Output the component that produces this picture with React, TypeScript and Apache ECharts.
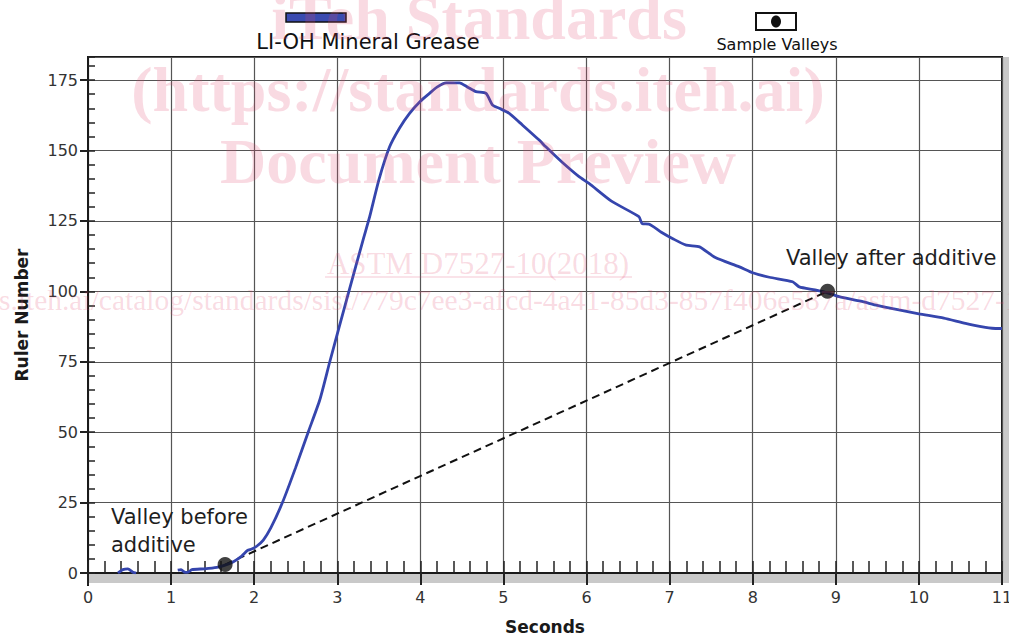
import React, { useEffect, useRef } from "react";
import * as echarts from "echarts";

const seconds: number[] = [0.36, 0.42, 0.48, 0.54, 0.58, 0.6, 1.05, 1.08, 1.12, 1.16, 1.2, 1.25, 1.4, 1.55, 1.65, 1.75, 1.85, 1.92, 1.97, 2.03, 2.11, 2.2, 2.34, 2.5, 2.65, 2.79, 2.91, 3.02, 3.14, 3.31, 3.39, 3.5, 3.63, 3.75, 3.87, 4.0, 4.11, 4.2, 4.31, 4.47, 4.57, 4.67, 4.79, 4.87, 4.95, 5.07, 5.2, 5.43, 5.51, 5.7, 5.91, 6.03, 6.3, 6.63, 6.67, 6.75, 6.9, 7.05, 7.2, 7.36, 7.55, 7.84, 8.0, 8.2, 8.48, 8.56, 8.75, 8.92, 9.04, 9.3, 9.5, 9.76, 10.0, 10.3, 10.56, 10.8, 10.88, 11.0];
const rulerNumber: (number | null)[] = [0, 1.2, 1.5, 0.3, 0, null, null, 1, 1.2, 0.3, 0.2, 1.2, 1.5, 2, 2.8, 4, 6, 8, 8.5, 9.5, 11.7, 16, 25, 37.5, 50, 61.5, 75, 87, 100, 118.2, 126.5, 139.5, 151.3, 158, 163.2, 167.5, 170.3, 172.5, 174, 174, 172.5, 170.9, 170.3, 166.1, 165, 163.2, 159.8, 153.7, 151.3, 146, 140.7, 138.3, 132, 126.5, 124, 123.9, 121, 118.5, 116.4, 115.8, 112, 108.7, 106.6, 105, 103.4, 101.6, 100.5, 99.3, 98.1, 96.5, 95, 93.4, 92, 90.5, 88.6, 87.2, 86.9, 86.8];
const valleySeconds: number[] = [1.65, 8.9];
const valleyRuler: number[] = [3, 100];
const valleyLabels: string[] = ["Valley before\nadditive", "Valley after additive"];
const seriesNames: string[] = ["LI-OH Mineral Grease", "Sample Valleys"];
const xTicks: number[] = [0, 1, 2, 3, 4, 5, 6, 7, 8, 9, 10, 11];
const yTicks: number[] = [0, 25, 50, 75, 100, 125, 150, 175];

const FONT = "DejaVu Sans";
const WM = "rgba(225,70,110,0.2)";
const SERIF = "Liberation Serif";

export default function App() {
  const ref = useRef<HTMLDivElement>(null);
  useEffect(() => {
    if (!ref.current) return;
    const chart = echarts.init(ref.current, null, { renderer: "svg" });
    const X_MIN = xTicks[0];
    const X_MAX = xTicks[xTicks.length - 1];
    const Y_MAX = 183.2;
    const lineData = seconds.map((s, i) => [s, rulerNumber[i]]);
    const valleyData = valleySeconds.map((s, i) => [s, valleyRuler[i]]);
    const commonX = { type: "value", position: "bottom", min: X_MIN, max: X_MAX, interval: 1, gridIndex: 0 };
    const commonY = { type: "value", position: "left", min: yTicks[0], max: Y_MAX, interval: 25, gridIndex: 0 };
    chart.setOption({
      animation: false,
      backgroundColor: "#ffffff",
      grid: {
        left: 88, right: 7, top: 57, bottom: 69, containLabel: false, outerBoundsMode: "none",
        show: true, borderColor: "#1a1a1a", borderWidth: 2, backgroundColor: "transparent",
      },
      xAxis: [
        {
          ...commonX,
          axisLine: { show: true, onZero: false, lineStyle: { color: "#1a1a1a", width: 2 } },
          axisTick: { show: true, inside: true, length: 12, lineStyle: { color: "#222", width: 1.5 } },
          minorTick: { show: true, splitNumber: 5, length: 12, lineStyle: { color: "#222", width: 1.5 } },
          axisLabel: { show: false },
          splitLine: { show: true, lineStyle: { color: "#555", width: 1.2 } },
        },
        {
          ...commonX,
          name: "Seconds",
          nameLocation: "middle",
          nameGap: 45,
          nameTextStyle: { fontFamily: FONT, fontSize: 17, fontWeight: "bold", color: "#1a1a1a" },
          axisLine: { show: true, onZero: false, lineStyle: { color: "#1a1a1a", width: 2 } },
          axisTick: { show: true, inside: false, length: 12, lineStyle: { color: "#222", width: 2 } },
          axisLabel: { show: true, margin: 16, fontFamily: FONT, fontSize: 16, color: "#333" },
          splitLine: { show: false },
        },
      ],
      yAxis: [
        {
          ...commonY,
          axisLine: { show: true, onZero: false, lineStyle: { color: "#1a1a1a", width: 2 } },
          axisTick: { show: true, inside: true, length: 7, lineStyle: { color: "#222", width: 1.5 } },
          minorTick: { show: true, splitNumber: 5, length: 7, lineStyle: { color: "#222", width: 1.5 } },
          axisLabel: { show: false },
          splitLine: { show: true, lineStyle: { color: "#555", width: 1.2 } },
        },
        {
          ...commonY,
          name: "Ruler Number",
          nameLocation: "middle",
          nameGap: 58,
          nameTextStyle: { fontFamily: FONT, fontSize: 17, fontWeight: "bold", color: "#1a1a1a" },
          axisLine: { show: true, onZero: false, lineStyle: { color: "#1a1a1a", width: 2 } },
          axisTick: { show: true, inside: false, length: 8, lineStyle: { color: "#222", width: 2 } },
          axisLabel: {
            show: true, margin: 10, fontFamily: FONT, fontSize: 16, color: "#333", showMaxLabel: false,
            formatter: (v: number) => (yTicks.indexOf(v) >= 0 ? String(v) : ""),
          },
          splitLine: { show: false },
        },
      ],
      series: [
        {
          name: "Valley line",
          type: "line",
          data: valleyData,
          symbol: "none",
          lineStyle: { color: "#111", width: 2, type: [8, 5] },
          z: 3,
          silent: true,
        },
        {
          name: seriesNames[0],
          type: "line",
          data: lineData,
          symbol: "none",
          smooth: 0.2,
          connectNulls: false,
          lineStyle: { color: "#3545ad", width: 2.8 },
          z: 4,
        },
        {
          name: seriesNames[1],
          type: "scatter",
          data: valleyData,
          symbol: "circle",
          symbolSize: 15,
          itemStyle: { color: "#111" },
          z: 5,
        },
      ],
      graphic: [
        { type: "rect", shape: { x: 89, y: 574, width: 920, height: 9 }, style: { fill: "#c9c9c9" }, z: -1 },
        { type: "rect", shape: { x: 1003, y: 57, width: 6, height: 526 }, style: { fill: "#c9c9c9" }, z: -1 },
        { type: "line", shape: { x1: 88, y1: 573, x2: 88, y2: 586 }, style: { stroke: "#1a1a1a", lineWidth: 2 } },
        { type: "line", shape: { x1: 1002, y1: 57, x2: 1002, y2: 583 }, style: { stroke: "#1a1a1a", lineWidth: 2 } },
        { type: "text", left: 111, top: 503, style: { text: valleyLabels[0], fontFamily: FONT, fontSize: 21, lineHeight: 28, fill: "#1e1e1e" }, z: 10 },
        { type: "text", left: 786, top: 247, style: { text: valleyLabels[1], fontFamily: FONT, fontSize: 21, fill: "#1e1e1e" }, z: 10 },
        { type: "rect", shape: { x: 286, y: 13, width: 60, height: 9 }, style: { fill: "#3a4bb0", stroke: "#111", lineWidth: 1.5 }, z: 10 },
        { type: "text", x: 368, y: 42, style: { text: seriesNames[0], fontFamily: FONT, fontSize: 21, fill: "#111", align: "center", verticalAlign: "middle" }, z: 10 },
        { type: "rect", shape: { x: 756, y: 13, width: 40, height: 17 }, style: { fill: "#fff", stroke: "#111", lineWidth: 2 }, z: 10 },
        { type: "ellipse", shape: { cx: 776, cy: 21.5, rx: 5, ry: 6 }, style: { fill: "#111" }, z: 11 },
        { type: "text", x: 777, y: 44, style: { text: seriesNames[1], fontFamily: FONT, fontSize: 16, fill: "#111", align: "center", verticalAlign: "middle" }, z: 10 },
        { type: "text", x: 479, y: 17, style: { text: "iTeh Standards", fontFamily: SERIF, fontWeight: "bold", fontSize: 64, fill: WM, align: "center", verticalAlign: "middle" }, z: 50, silent: true },
        { type: "text", x: 478, y: 89, style: { text: "(https://standards.iteh.ai)", fontFamily: SERIF, fontWeight: "bold", fontSize: 64, fill: WM, align: "center", verticalAlign: "middle" }, z: 50, silent: true },
        { type: "text", x: 478, y: 161, style: { text: "Document Preview", fontFamily: SERIF, fontWeight: "bold", fontSize: 64, fill: WM, align: "center", verticalAlign: "middle" }, z: 50, silent: true },
        { type: "text", x: 478, y: 263, style: { text: "ASTM D7527-10(2018)", fontFamily: SERIF, fontSize: 31, fill: WM, align: "center", verticalAlign: "middle" }, z: 50, silent: true },
        { type: "line", shape: { x1: 325, y1: 277, x2: 632, y2: 277 }, style: { stroke: WM, lineWidth: 1.5 }, z: 50, silent: true },
        { type: "text", x: -183, y: 300, style: { text: "https://standards.iteh.ai/catalog/standards/sist/779c7ee3-afcd-4a41-85d3-857f406e587a/astm-d7527-10-2018", fontFamily: SERIF, fontSize: 29.5, fill: WM, align: "left", verticalAlign: "middle" }, z: 50, silent: true },
      ],
    });
    return () => chart.dispose();
  }, []);
  return <div ref={ref} style={{ width: 1009, height: 642, position: "absolute", left: 0, top: 0 }} />;
}
